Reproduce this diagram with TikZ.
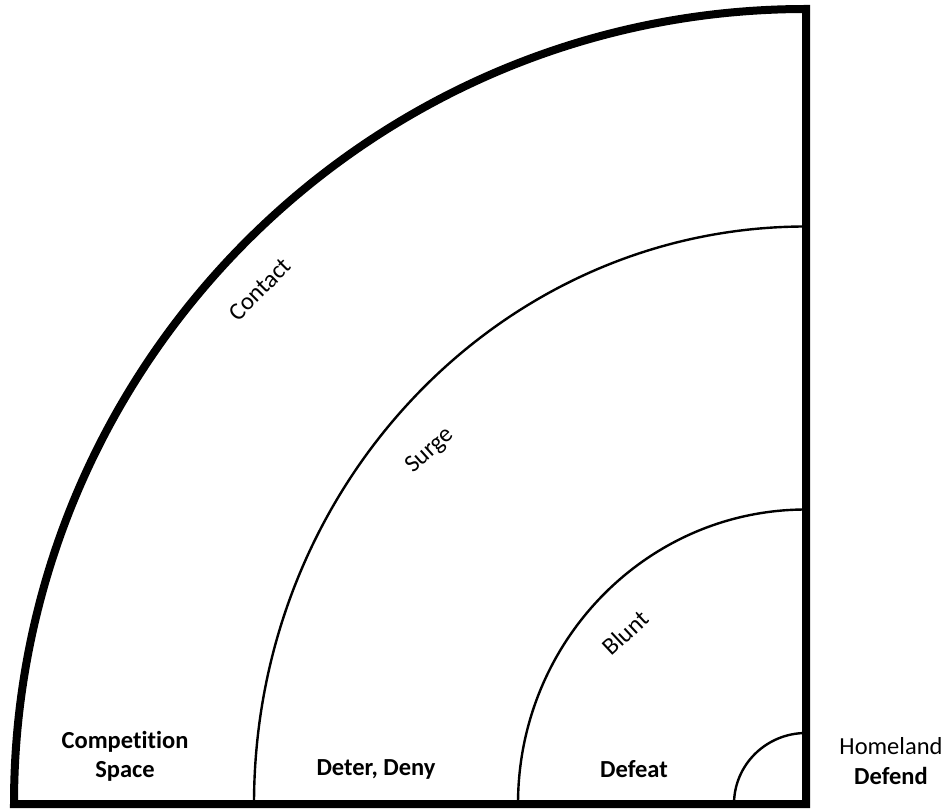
\documentclass[tikz,border=0pt]{standalone}
\usepackage{fontspec}
\setmainfont{Carlito}[Ligatures={NoCommon}]
\begin{document}
\begin{tikzpicture}[x=1pt,y=1pt,
  thickline/.style={line width=8pt,line join=miter},
  thinline/.style={line width=2.4pt},
  lbl/.style={font=\fontsize{24.5}{29.5}\selectfont,inner sep=0pt},
  blbl/.style={lbl,font=\fontsize{24.5}{29.5}\selectfont\bfseries}]
\useasboundingbox (0,0) rectangle (949,809);
\coordinate (C) at (806,5);
% thin arcs
\draw[thinline] (806-552,5) arc[start angle=180,end angle=90,x radius=552,y radius=577.5];
\draw[thinline] (806-288,5) arc[start angle=180,end angle=90,x radius=288,y radius=294.5];
\draw[thinline] (806-72,5) arc[start angle=180,end angle=90,x radius=72,y radius=71];
% outer thick frame
\draw[thickline] (C) -- (806-792,5) arc[start angle=180,end angle=90,x radius=792,y radius=795] -- cycle;
% labels
\node[blbl,align=center] (comp) at (125,52.5) {Competition\\Space};
\node[blbl,anchor=base] (deter) at (376,34) {Deter, Deny};
\node[blbl,anchor=base] (defeat) at (634,32) {Defeat};
\node[lbl,align=center] (home) at (891,48) {Homeland\\\textbf{Defend}};
\node[lbl,anchor=base,rotate=45] (contact) at (265.5,514) {Contact};
\node[lbl,anchor=base,rotate=42] (surge) at (434,354) {Surge};
\node[lbl,anchor=base,rotate=43] (blunt) at (631,170) {Blunt};
\end{tikzpicture}
\end{document}
